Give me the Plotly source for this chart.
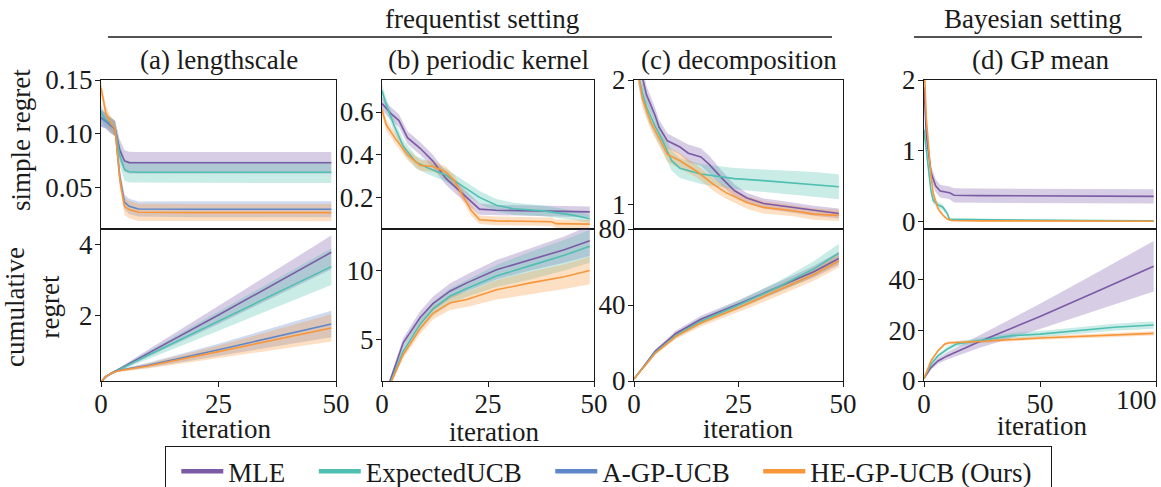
import plotly.graph_objects as go

W, H = 1161, 487          # browser window = figure size (page margin removed below)
FONT = "Liberation Serif"

METHODS = ["MLE", "ExpectedUCB", "A-GP-UCB", "HE-GP-UCB (Ours)"]
COLORS = ["#7b5aa6", "#4fbfb1", "#5f86c6", "#f7963a"]
FILLS = ["rgba(123,90,166,0.30)", "rgba(79,191,177,0.30)",
         "rgba(95,134,198,0.30)", "rgba(247,150,58,0.30)"]

SUBTITLES = ["(a) lengthscale", "(b) periodic kernel", "(c) decomposition", "(d) GP mean"]

# ---------------- (a) lengthscale : simple regret ----------------
a_top_x = [0, 1, 2, 3, 4, 5, 6, 8, 20, 49]
a_top_mle = [0.115, 0.112, 0.108, 0.105, 0.085, 0.075, 0.0735, 0.0734, 0.0734, 0.0734]
a_top_mle_sd = [0.008, 0.007, 0.007, 0.007, 0.010, 0.010, 0.010, 0.010, 0.010, 0.010]
a_top_eucb = [0.120, 0.113, 0.110, 0.105, 0.080, 0.067, 0.065, 0.0645, 0.0645, 0.0645]
a_top_eucb_sd = [0.007, 0.006, 0.006, 0.007, 0.010, 0.010, 0.010, 0.010, 0.010, 0.010]
a_top_agp = [0.115, 0.112, 0.108, 0.105, 0.060, 0.037, 0.033, 0.0305, 0.0303, 0.0303]
a_top_agp_sd = [0.008, 0.007, 0.007, 0.007, 0.008, 0.007, 0.007, 0.007, 0.0075, 0.0075]
a_top_he = [0.143, 0.120, 0.110, 0.105, 0.058, 0.033, 0.030, 0.0275, 0.0272, 0.0272]
a_top_he_sd = [0.006, 0.007, 0.007, 0.007, 0.008, 0.008, 0.008, 0.008, 0.008, 0.008]

# ---------------- (a) lengthscale : cumulative regret ----------------
a_bot_x = [0, 1, 2, 3, 4, 10, 25, 49]
a_bot_mle = [0.15, 0.30, 0.38, 0.45, 0.52, 0.95, 2.02, 3.77]
a_bot_mle_sd = [0.0, 0.02, 0.03, 0.03, 0.04, 0.10, 0.25, 0.47]
a_bot_eucb = [0.15, 0.30, 0.38, 0.45, 0.51, 0.90, 1.85, 3.37]
a_bot_eucb_sd = [0.0, 0.02, 0.03, 0.03, 0.04, 0.10, 0.27, 0.51]
a_bot_agp = [0.15, 0.30, 0.38, 0.45, 0.48, 0.62, 1.05, 1.77]
a_bot_agp_sd = [0.0, 0.02, 0.03, 0.03, 0.03, 0.07, 0.17, 0.37]
a_bot_he = [0.15, 0.30, 0.38, 0.44, 0.47, 0.60, 1.00, 1.66]
a_bot_he_sd = [0.0, 0.02, 0.03, 0.03, 0.03, 0.07, 0.17, 0.38]

# ---------------- (b) periodic kernel : simple regret ----------------
b_top_mle_x = [0, 2, 4, 6, 9, 12, 15, 18, 21, 23, 27, 35, 49]
b_top_mle = [0.64, 0.595, 0.56, 0.48, 0.43, 0.37, 0.29, 0.235, 0.18, 0.145, 0.14, 0.137, 0.132]
b_top_mle_sd = [0.03, 0.03, 0.03, 0.03, 0.03, 0.03, 0.03, 0.03, 0.028, 0.026, 0.025, 0.025, 0.025]
b_top_eucb_x = [0, 1, 3, 5, 8, 11, 15, 17, 20, 23, 27, 31, 38, 45, 49]
b_top_eucb = [0.70, 0.635, 0.53, 0.44, 0.365, 0.337, 0.305, 0.28, 0.24, 0.20, 0.163, 0.147, 0.137, 0.117, 0.10]
b_top_eucb_sd = [0.03, 0.03, 0.03, 0.03, 0.03, 0.03, 0.03, 0.03, 0.03, 0.03, 0.03, 0.028, 0.025, 0.022, 0.02]
b_top_he_x = [0, 1, 3, 6, 9, 12, 15, 17, 19, 21, 23, 27, 40, 41, 49]
b_top_he = [0.61, 0.54, 0.48, 0.40, 0.35, 0.345, 0.32, 0.28, 0.21, 0.14, 0.095, 0.09, 0.086, 0.077, 0.075]
b_top_he_sd = [0.025, 0.025, 0.025, 0.025, 0.025, 0.025, 0.025, 0.025, 0.025, 0.025, 0.02, 0.02, 0.02, 0.02, 0.02]

# ---------------- (b) periodic kernel : cumulative regret ----------------
b_bot_x = [0, 1, 2, 5, 9, 12, 16, 20, 27, 35, 43, 49]
b_bot_mle = [0.65, 1.30, 2.10, 4.76, 6.60, 7.60, 8.50, 9.10, 10.05, 10.80, 11.50, 12.15]
b_bot_mle_sd = [0.05, 0.10, 0.20, 0.35, 0.45, 0.50, 0.55, 0.60, 0.70, 0.80, 0.95, 1.10]
b_bot_eucb = [0.60, 1.20, 1.90, 4.16, 6.10, 7.20, 8.13, 8.70, 9.60, 10.35, 11.10, 11.75]
b_bot_eucb_sd = [0.05, 0.10, 0.20, 0.35, 0.45, 0.50, 0.55, 0.60, 0.80, 1.00, 1.10, 1.20]
b_bot_he = [0.55, 1.15, 1.80, 3.92, 5.80, 6.90, 7.64, 7.90, 8.60, 9.10, 9.55, 10.00]
b_bot_he_sd = [0.05, 0.10, 0.20, 0.30, 0.40, 0.45, 0.50, 0.55, 0.70, 0.80, 0.90, 1.00]

# ---------------- (c) decomposition : simple regret ----------------
c_top_mle_x = [0, 1, 2, 3, 5, 6, 8, 11, 13, 16, 18, 21, 24, 27, 31, 35, 43, 49]
c_top_mle = [2.60, 2.25, 2.02, 1.88, 1.72, 1.62, 1.51, 1.46, 1.41, 1.38, 1.32, 1.21, 1.11, 1.05, 1.005, 0.987, 0.947, 0.925]
c_top_mle_sd = [0.10, 0.08, 0.08, 0.07, 0.06, 0.06, 0.06, 0.06, 0.07, 0.07, 0.07, 0.06, 0.05, 0.04, 0.04, 0.04, 0.04, 0.04]
c_top_eucb_x = [0, 1, 2, 3, 5, 7, 9, 11, 16, 24, 31, 43, 49]
c_top_eucb = [2.50, 2.05, 1.90, 1.78, 1.63, 1.50, 1.35, 1.29, 1.243, 1.206, 1.19, 1.159, 1.14]
c_top_eucb_sd = [0.10, 0.09, 0.08, 0.08, 0.08, 0.08, 0.08, 0.08, 0.08, 0.085, 0.09, 0.10, 0.10]
c_top_he_x = [0, 1, 2, 4, 6, 8, 11, 15, 19, 22, 27, 31, 38, 43, 49]
c_top_he = [2.50, 2.05, 1.85, 1.66, 1.53, 1.40, 1.35, 1.265, 1.159, 1.093, 1.013, 0.974, 0.947, 0.92, 0.91]
c_top_he_sd = [0.10, 0.08, 0.07, 0.06, 0.06, 0.06, 0.06, 0.05, 0.05, 0.05, 0.05, 0.05, 0.045, 0.045, 0.045]

# ---------------- (c) decomposition : cumulative regret ----------------
c_bot_x = [0, 1, 3, 5, 10, 16, 25, 35, 43, 49]
c_bot_mle = [1.0, 4.0, 9.5, 15.5, 25.0, 32.5, 40.5, 50.0, 57.5, 64.5]
c_bot_mle_sd = [0.0, 0.3, 0.8, 1.0, 1.5, 1.8, 2.0, 2.5, 3.0, 3.5]
c_bot_eucb = [1.0, 3.8, 9.0, 14.8, 24.0, 31.5, 40.0, 50.0, 59.0, 67.3]
c_bot_eucb_sd = [0.0, 0.3, 0.8, 1.0, 1.5, 1.8, 2.2, 3.0, 4.0, 5.0]
c_bot_he = [1.0, 3.8, 9.0, 14.5, 23.5, 30.5, 38.5, 48.0, 56.0, 63.3]
c_bot_he_sd = [0.0, 0.3, 0.8, 1.0, 1.5, 1.8, 2.2, 2.8, 3.2, 3.5]

# ---------------- (d) GP mean : simple regret ----------------
d_top_mle_x = [0, 1, 3, 5, 7, 11, 13, 24, 99]
d_top_mle = [1.90, 1.23, 0.70, 0.51, 0.435, 0.41, 0.375, 0.37, 0.36]
d_top_mle_sd = [0.10, 0.12, 0.10, 0.09, 0.09, 0.09, 0.10, 0.10, 0.10]
d_top_eucb_x = [0, 1, 3, 4, 6, 8, 10, 11, 24, 70, 99]
d_top_eucb = [1.30, 1.00, 0.44, 0.30, 0.24, 0.21, 0.12, 0.035, 0.03, 0.02, 0.015]
d_top_eucb_sd = [0.10, 0.08, 0.06, 0.05, 0.04, 0.04, 0.03, 0.02, 0.015, 0.01, 0.01]
d_top_he_x = [0, 1, 3, 4, 6, 8, 10, 12, 24, 99]
d_top_he = [2.30, 1.46, 0.65, 0.40, 0.19, 0.10, 0.04, 0.02, 0.015, 0.01]
d_top_he_sd = [0.05, 0.05, 0.04, 0.03, 0.03, 0.02, 0.015, 0.01, 0.01, 0.01]

# ---------------- (d) GP mean : cumulative regret ----------------
d_bot_mle_x = [0, 3, 6, 10, 24, 50, 75, 99]
d_bot_mle = [1.0, 5.3, 7.9, 9.9, 15.6, 25.5, 35.5, 45.3]
d_bot_mle_sd = [0.2, 0.8, 1.1, 1.4, 2.5, 5.0, 7.5, 10.0]
d_bot_eucb_x = [0, 3, 6, 10, 14, 24, 38, 50, 67, 82, 99]
d_bot_eucb = [1.0, 6.6, 9.9, 12.6, 14.6, 15.9, 17.9, 18.5, 19.9, 21.2, 22.1]
d_bot_eucb_sd = [0.2, 0.6, 0.8, 0.9, 1.0, 1.0, 1.1, 1.2, 1.3, 1.4, 1.5]
d_bot_he_x = [0, 3, 6, 9, 11, 24, 50, 99]
d_bot_he = [1.0, 7.9, 11.9, 14.6, 15.1, 15.6, 17.0, 18.8]
d_bot_he_sd = [0.2, 0.4, 0.5, 0.6, 0.6, 0.6, 0.7, 0.8]

# ---------------- axis ticks / ranges ----------------
y_ticks_top = [[0.05, 0.10, 0.15], [0.2, 0.4, 0.6], [1, 2], [0, 1, 2]]
y_ticktext_top = [["0.05", "0.10", "0.15"], ["0.2", "0.4", "0.6"], ["1", "2"], ["0", "1", "2"]]
y_ticks_bot = [[2, 4], [5, 10], [0, 40, 80], [0, 20, 40]]
x_ticks = [[0, 25, 50], [0, 25, 50], [0, 25, 50], [0, 50, 100]]
x_ticktext = [["0", "25", "50"], ["0", "25", "50"], ["0", "25", "50"], ["0", "50", ""]]
x_edge_label = "100"      # last tick label of (d), drawn at the figure edge
x_ranges = [[0, 50], [0, 50], [0, 50], [0, 100]]
y_ranges_top = [[0.012, 0.15], [0.052, 0.75], [0.80, 2.0], [-0.10, 2.0]]
y_ranges_bot = [[0.18, 4.42], [2.0, 13.0], [0, 80], [0, 60]]

# series per panel: (method index, x, mean, sd)
top_series = [
    [(0, a_top_x, a_top_mle, a_top_mle_sd), (1, a_top_x, a_top_eucb, a_top_eucb_sd),
     (2, a_top_x, a_top_agp, a_top_agp_sd), (3, a_top_x, a_top_he, a_top_he_sd)],
    [(0, b_top_mle_x, b_top_mle, b_top_mle_sd), (1, b_top_eucb_x, b_top_eucb, b_top_eucb_sd),
     (3, b_top_he_x, b_top_he, b_top_he_sd)],
    [(0, c_top_mle_x, c_top_mle, c_top_mle_sd), (1, c_top_eucb_x, c_top_eucb, c_top_eucb_sd),
     (3, c_top_he_x, c_top_he, c_top_he_sd)],
    [(0, d_top_mle_x, d_top_mle, d_top_mle_sd), (1, d_top_eucb_x, d_top_eucb, d_top_eucb_sd),
     (3, d_top_he_x, d_top_he, d_top_he_sd)],
]
bot_series = [
    [(0, a_bot_x, a_bot_mle, a_bot_mle_sd), (1, a_bot_x, a_bot_eucb, a_bot_eucb_sd),
     (2, a_bot_x, a_bot_agp, a_bot_agp_sd), (3, a_bot_x, a_bot_he, a_bot_he_sd)],
    [(0, b_bot_x, b_bot_mle, b_bot_mle_sd), (1, b_bot_x, b_bot_eucb, b_bot_eucb_sd),
     (3, b_bot_x, b_bot_he, b_bot_he_sd)],
    [(0, c_bot_x, c_bot_mle, c_bot_mle_sd), (1, c_bot_x, c_bot_eucb, c_bot_eucb_sd),
     (3, c_bot_x, c_bot_he, c_bot_he_sd)],
    [(0, d_bot_mle_x, d_bot_mle, d_bot_mle_sd), (1, d_bot_eucb_x, d_bot_eucb, d_bot_eucb_sd),
     (3, d_bot_he_x, d_bot_he, d_bot_he_sd)],
]

# ---------------- layout geometry (window pixels) ----------------
panel_px = [(101, 336), (382, 594), (634, 843), (924, 1156)]
top_px = (80, 229)
bot_px = (229, 381)


def px_x(p):
    return p / W


def px_y(p):
    return 1 - p / H


fig = go.Figure()
layout = dict(
    template="none",
    width=W, height=H, autosize=False,
    margin=dict(l=0, r=0, t=0, b=0, pad=0, autoexpand=False),
    paper_bgcolor="white", plot_bgcolor="white",
    font=dict(family=FONT, size=27, color="#1a1a1a"),
    showlegend=True,
)

TICKFONT = dict(family=FONT, size=27, color="#1a1a1a")
ax_common = dict(showline=True, linecolor="#1a1a1a", linewidth=1.3, mirror=True,
                 showgrid=False, zeroline=False, ticks="outside", ticklen=5,
                 tickwidth=1.3, tickcolor="#1a1a1a", automargin=False,
                 tickfont=TICKFONT)


def add_series(series, xa, ya):
    for (m, xs, ms, sds) in series:
        lo = [a - b for a, b in zip(ms, sds)]
        hi = [a + b for a, b in zip(ms, sds)]
        fig.add_trace(go.Scatter(x=list(xs) + list(xs)[::-1], y=hi + lo[::-1],
                                 fill="toself", fillcolor=FILLS[m], line=dict(width=0),
                                 mode="lines", hoverinfo="skip", showlegend=False,
                                 xaxis=xa, yaxis=ya))
    for (m, xs, ms, sds) in series:
        fig.add_trace(go.Scatter(x=xs, y=ms, mode="lines",
                                 line=dict(color=COLORS[m], width=1.6),
                                 name=METHODS[m], showlegend=False,
                                 xaxis=xa, yaxis=ya))


for i in range(4):
    it = 2 * i + 1
    ib = 2 * i + 2
    dom_x = [px_x(panel_px[i][0]), px_x(panel_px[i][1])]
    layout[f"xaxis{it}"] = dict(ax_common, domain=dom_x, range=x_ranges[i],
                                anchor=f"y{it}", showticklabels=False, ticks="")
    layout[f"yaxis{it}"] = dict(ax_common, domain=[px_y(top_px[1]), px_y(top_px[0])],
                                range=y_ranges_top[i], anchor=f"x{it}",
                                tickvals=y_ticks_top[i], ticktext=y_ticktext_top[i],
                                ticklabelstandoff=-3)
    layout[f"xaxis{ib}"] = dict(ax_common, domain=dom_x, range=x_ranges[i],
                                anchor=f"y{ib}", tickvals=x_ticks[i], ticktext=x_ticktext[i],
                                ticklabelstandoff=-7)
    layout[f"yaxis{ib}"] = dict(ax_common, domain=[px_y(bot_px[1]), px_y(bot_px[0])],
                                range=y_ranges_bot[i], anchor=f"x{ib}",
                                tickvals=y_ticks_bot[i], ticklabelstandoff=-3)
    add_series(top_series[i], f"x{it}", f"y{it}")
    add_series(bot_series[i], f"x{ib}", f"y{ib}")

# legend handles (thicker line, as in the reference legend)
PAD = "\u00a0\u00a0"
for m in range(4):
    fig.add_trace(go.Scatter(x=[None], y=[None], mode="lines", name=METHODS[m] + PAD,
                             line=dict(color=COLORS[m], width=4.5), xaxis="x1", yaxis="y1"))

layout["legend"] = dict(orientation="h", x=px_x(165), y=px_y(446), xanchor="left", yanchor="top",
                        bordercolor="#1a1a1a", borderwidth=1.3, bgcolor="white", indentation=10,
                        font=dict(family=FONT, size=27, color="#1a1a1a"), itemwidth=42)

ann = []
title_y = 60
for i, t in enumerate(SUBTITLES):
    cx = (panel_px[i][0] + panel_px[i][1]) / 2
    ann.append(dict(text=t, x=px_x(cx), y=px_y(title_y), xref="paper", yref="paper",
                    showarrow=False, font=dict(family=FONT, size=27, color="#1a1a1a"),
                    xanchor="center", yanchor="middle"))
xlab_pos = [(226, 429), (494, 432), (748, 429), (1042, 426)]
for (cx, cy) in xlab_pos:
    ann.append(dict(text="iteration", x=px_x(cx), y=px_y(cy), xref="paper", yref="paper",
                    showarrow=False, font=dict(family=FONT, size=27, color="#1a1a1a"),
                    xanchor="center", yanchor="middle"))
# "100" tick label of panel (d), pulled inside the window edge as in the reference
ann.append(dict(text=x_edge_label, x=px_x(1159), y=px_y(400), xref="paper", yref="paper",
                showarrow=False, font=TICKFONT, xanchor="right", yanchor="middle"))
ann.append(dict(text="simple regret", x=px_x(21), y=px_y(140), xref="paper", yref="paper",
                showarrow=False, textangle=-90, font=dict(family=FONT, size=27, color="#1a1a1a"),
                xanchor="center", yanchor="middle"))
ann.append(dict(text="cumulative<br>regret", x=px_x(32), y=px_y(307), xref="paper", yref="paper",
                showarrow=False, textangle=-90, font=dict(family=FONT, size=27, color="#1a1a1a"),
                xanchor="center", yanchor="middle"))
ann.append(dict(text="frequentist setting", x=px_x(482), y=px_y(19), xref="paper", yref="paper",
                showarrow=False, font=dict(family=FONT, size=27, color="#1a1a1a"),
                xanchor="center", yanchor="middle"))
ann.append(dict(text="Bayesian setting", x=px_x(1033), y=px_y(19), xref="paper", yref="paper",
                showarrow=False, font=dict(family=FONT, size=27, color="#1a1a1a"),
                xanchor="center", yanchor="middle"))
layout["annotations"] = ann
layout["shapes"] = [
    dict(type="line", xref="paper", yref="paper", x0=px_x(108), x1=px_x(832),
         y0=px_y(37), y1=px_y(37), line=dict(color="#1a1a1a", width=1.5)),
    dict(type="line", xref="paper", yref="paper", x0=px_x(914), x1=px_x(1142),
         y0=px_y(37), y1=px_y(37), line=dict(color="#1a1a1a", width=1.5)),
]

fig.update_layout(**layout)
fig.write_html("out.html", config={"displayModeBar": False},
               post_script="document.body.style.margin='0';document.body.style.overflow='hidden';")
